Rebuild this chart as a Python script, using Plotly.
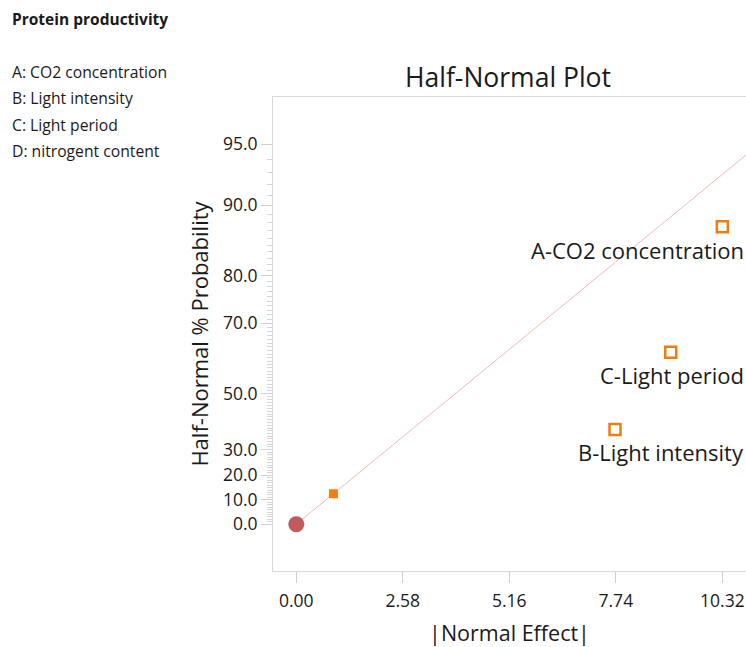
from statistics import NormalDist
import plotly.graph_objects as go

# ---- data ----
effect_labels = ["A-CO2 concentration", "C-Light period", "B-Light intensity"]
effect_values = [10.32, 9.07, 7.72]
effect_probs = [87.5, 62.5, 37.5]          # half-normal % probability
error_values = [0.90]
error_probs = [12.5]
origin_value = [0.0]
origin_prob = [0.0]
y_tick_probs = [0, 10, 20, 30, 50, 70, 80, 90, 95]
y_minor_probs = [p for p in range(1, 95) if p not in y_tick_probs]
x_tick_vals = [0.00, 2.58, 5.16, 7.74, 10.32]
factor_lines = ["A: CO2 concentration", "B: Light intensity", "C: Light period", "D: nitrogent content"]
response_name = "Protein productivity"

nd = NormalDist()
def hz(p):
    return nd.inv_cdf(0.5 + p / 200.0)

FONT = "Open Sans"
TXT = "#1a1a1a"
W, H = 746.0, 647.0
ml, mr, mt, mb = 273, 0, 97, 76
pw = W - ml - mr
ph = H - mt - mb

fig = go.Figure()

# reference line through origin and error point
slope = hz(error_probs[0]) / error_values[0]
lx = [0.0, 12.0]
fig.add_trace(go.Scatter(x=lx, y=[v * slope for v in lx], mode="lines",
                         line=dict(color="#f4b8b8", width=1), hoverinfo="skip", showlegend=False))

fig.add_trace(go.Scatter(x=origin_value, y=[hz(p) for p in origin_prob], mode="markers",
                         marker=dict(symbol="circle", size=16, color="#c05a5c"), showlegend=False))
fig.add_trace(go.Scatter(x=error_values, y=[hz(p) for p in error_probs], mode="markers",
                         marker=dict(symbol="square", size=9, color="#fb7d07"), showlegend=False))
fig.add_trace(go.Scatter(x=effect_values, y=[hz(p) for p in effect_probs], mode="markers",
                         marker=dict(symbol="square-open", size=11, color="#ef7d10",
                                     line=dict(width=2.5, color="#ef7d10")), showlegend=False))

annotations = []
for lab, v, p in zip(effect_labels, effect_values, effect_probs):
    annotations.append(dict(x=1.0, xref="paper", y=hz(p), yref="y", text=lab, showarrow=False,
                            xanchor="right", yanchor="middle", yshift=-23,
                            font=dict(family=FONT, size=22, color=TXT)))

# left text block, positioned in pixels and converted to plot-area paper coords
left_items = [(10, 19, "<b>" + response_name + "</b>", 15.5)]
for i, t in enumerate(factor_lines):
    left_items.append((10, 72 + 26.3 * i, t, 15.7))
for px, py, t, sz in left_items:
    annotations.append(dict(x=(px - ml) / pw, y=1 - (py - mt) / ph, xref="paper", yref="paper",
                            text=t, showarrow=False, xanchor="left", yanchor="middle",
                            font=dict(family=FONT, size=sz, color=TXT)))

fig.update_layout(
    width=746, height=647,
    margin=dict(l=ml, r=mr, t=mt, b=mb),
    paper_bgcolor="white", plot_bgcolor="white",
    font=dict(family=FONT, color=TXT),
    title=dict(text="Half-Normal Plot", x=508 / W, xanchor="center", y=1 - 78 / H, yanchor="middle",
               font=dict(family=FONT, size=26.5, color=TXT)),
    annotations=annotations,
    xaxis=dict(range=[-0.564, 10.893], tickmode="array", tickvals=x_tick_vals,
               ticktext=["%.2f" % v for v in x_tick_vals], ticks="outside", ticklen=11,
               tickcolor="#d0d0d0", showgrid=False, zeroline=False, showline=True,
               linecolor="#d9d9d9", linewidth=1, mirror=True, ticklabelstandoff=3,
               tickfont=dict(family=FONT, size=17.5, color=TXT),
               title=dict(text="|Normal Effect|", font=dict(family=FONT, size=21.5, color=TXT), standoff=18)),
    yaxis=dict(range=[-0.241, 2.203], tickmode="array", tickvals=[hz(p) for p in y_tick_probs],
               ticktext=["%.1f" % p for p in y_tick_probs], ticks="outside", ticklen=11,
               tickcolor="#d0d0d0", showgrid=False, zeroline=False, showline=True,
               linecolor="#d9d9d9", linewidth=1, mirror=False,
               minor=dict(tickmode="array", tickvals=[hz(p) for p in y_minor_probs], ticks="outside",
                          ticklen=5, tickcolor="#d6d6d6", showgrid=False),
               tickfont=dict(family=FONT, size=17.5, color=TXT),
               title=dict(text="Half-Normal % Probability", font=dict(family=FONT, size=22, color=TXT), standoff=8)),
)

fig.write_html("out.html")
